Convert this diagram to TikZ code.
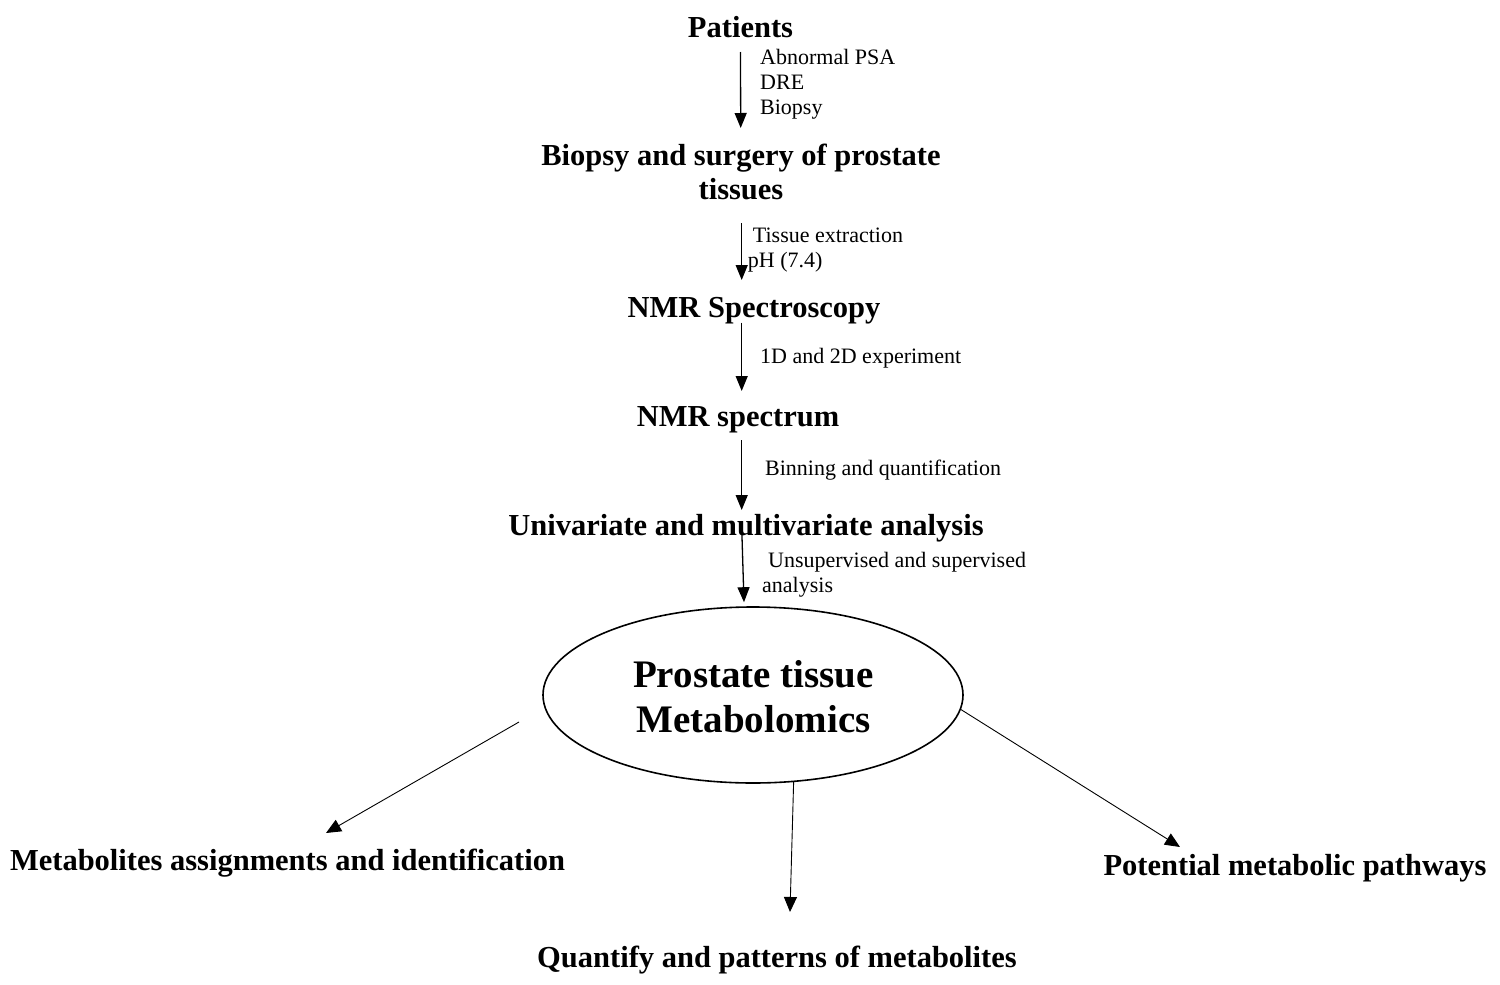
\documentclass[tikz,border=0pt]{standalone}
\usepackage{fontspec}
\setmainfont{Liberation Serif}
\usetikzlibrary{arrows.meta,shapes.geometric}
\begin{document}
\begin{tikzpicture}[x=1pt,y=-1pt,
  title/.style={font=\bfseries\fontsize{30.5}{34}\selectfont, inner sep=0pt, align=center},
  lab/.style={font=\fontsize{22}{25}\selectfont, inner sep=0pt, align=left},
  arr/.style={-{Triangle[length=15pt,width=12pt]}, line width=1.3pt},
  thinarr/.style={-{Triangle[length=15pt,width=13pt]}, line width=0.9pt},
  ellshape/.style={ellipse, draw, line width=1.6pt, inner sep=0pt,
    minimum width=420pt, minimum height=176pt},
  elltext/.style={inner sep=0pt, align=center,
    font=\bfseries\fontsize{39}{45}\selectfont}]
\useasboundingbox (0,0) rectangle (1500,985);
\fill[white] (0,0) rectangle (1500,985);

% main chain
\node[title, anchor=base] (pat) at (740.5,37) {Patients};
\node[title, anchor=north] (bio) at (741,144) {Biopsy and surgery of prostate\\tissues};
\node[title, anchor=base] (nmr) at (754,317.5) {NMR Spectroscopy};
\node[title, anchor=base] (spec) at (738,426) {NMR spectrum};
\node[title, anchor=base] (uni) at (746,535.5) {Univariate and multivariate analysis};
\node[ellshape] (ell) at (753,695) {};
\node[elltext] (elltxt) at (753.5,697) {Prostate tissue\\Metabolomics};
\node[title, anchor=base] (met) at (287.5,870) {Metabolites assignments and identification};
\node[title, anchor=base] (pot) at (1295,875) {Potential metabolic pathways};
\node[title, anchor=base] (qua) at (777,967) {Quantify and patterns of metabolites};

% labels
\node[lab, anchor=north west] (l1) at (760,49) {Abnormal PSA\\DRE\\Biopsy};
\node[lab, anchor=base west] (l2a) at (752.7,242) {Tissue extraction};
\node[lab, anchor=base west] (l2b) at (747.7,267) {pH (7.4)};
\node[lab, anchor=base west] (l3) at (760,363) {1D and 2D experiment};
\node[lab, anchor=base west] (l4) at (765,475) {Binning and quantification};
\node[lab, anchor=base west] (l5a) at (768,567) {Unsupervised and supervised};
\node[lab, anchor=base west] (l5b) at (762,592) {analysis};

% connectors
\draw[arr] ([shift={(0,15)}]pat.base) -- ([shift={(-0.3,-16)}]bio.north);
\draw[arr] ([shift={(0.7,23)}]bio.south) -- ([shift={(-12.3,-37.5)}]nmr.base);
\draw[arr] ([shift={(-12.3,5)}]nmr.base) -- ([shift={(3.7,-35)}]spec.base);
\draw[arr] ([shift={(3.7,14)}]spec.base) -- ([shift={(-4.3,-25.5)}]uni.base);
\draw[arr] ([shift={(-4.3,-8.5)}]uni.base) -- ([shift={(-9,-4)}]ell.north);

\draw[thinarr] ([shift={(-234,27)}]ell.center) -- ([shift={(38.5,-37)}]met.base);
\draw[thinarr] (ell.-65.3) -- ([shift={(13,-55)}]qua.base);
\draw[thinarr] (ell.-4.6) -- ([shift={(-115,-28)}]pot.base);
\end{tikzpicture}
\end{document}
